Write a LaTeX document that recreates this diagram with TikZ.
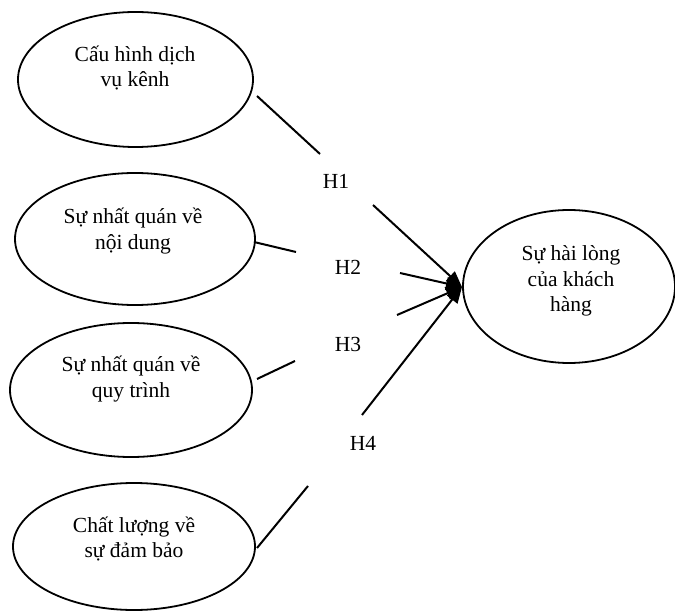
\documentclass[tikz,border=0pt]{standalone}
\usepackage{fontspec}
\setmainfont{Liberation Serif}
\usetikzlibrary{shapes.geometric,arrows.meta}
\begin{document}
\begin{tikzpicture}[x=1pt,y=-1pt,
  ell/.style={ellipse,draw,line width=1.8pt,inner sep=0pt},
  txt/.style={align=center,font=\fontsize{21.5}{25.5}\selectfont,inner sep=0pt},
  lbl/.style={font=\fontsize{21.5}{25.5}\selectfont,inner sep=0pt},
  conn/.style={line width=2pt},
  arr/.style={line width=2pt,-{Triangle[length=16pt,width=13pt]}}]
\useasboundingbox (0,0) rectangle (675,612);
% ellipses
\node[ell,minimum width=235pt,minimum height=135pt] (e1) at (135.5,79.5) {};
\node[ell,minimum width=240pt,minimum height=132pt] (e2) at (135,239) {};
\node[ell,minimum width=242pt,minimum height=134pt] (e3) at (131,390) {};
\node[ell,minimum width=242pt,minimum height=127pt] (e4) at (134,546.5) {};
\node[ell,minimum width=212pt,minimum height=153pt] (e5) at (569,286.5) {};
% texts
\node[txt] (t1) at (135,68) {Cấu hình dịch\\vụ kênh};
\node[txt] (t2) at (133,231) {Sự nhất quán về\\nội dung};
\node[txt] (t3) at (131,379) {Sự nhất quán về\\quy trình};
\node[txt] (t4) at (134,539) {Chất lượng về\\sự đảm bảo};
\node[txt] (t5) at (571,281) {Sự hài lòng\\của khách\\hàng};
% labels
\node[lbl] (h1) at (336,181) {H1};
\node[lbl] (h2) at (348,267) {H2};
\node[lbl] (h3) at (348,344) {H3};
\node[lbl] (h4) at (363,443) {H4};
% connector points
\coordinate (tip) at (462,287);
\coordinate (a1) at (257,96);  \coordinate (b1) at (320,154); \coordinate (c1) at (373,205);
\coordinate (a2) at (254,242); \coordinate (b2) at (296,252); \coordinate (c2) at (400,273);
\coordinate (a3) at (257,379); \coordinate (b3) at (295,361); \coordinate (c3) at (397,315);
\coordinate (a4) at (257,548); \coordinate (b4) at (308,486); \coordinate (c4) at (362,415);
\draw[conn] (a1) -- (b1);
\draw[conn] (a2) -- (b2);
\draw[conn] (a3) -- (b3);
\draw[conn] (a4) -- (b4);
\draw[arr] (c1) -- (tip);
\draw[arr] (c2) -- (tip);
\draw[arr] (c3) -- (tip);
\draw[arr] (c4) -- (tip);
\end{tikzpicture}
\end{document}
